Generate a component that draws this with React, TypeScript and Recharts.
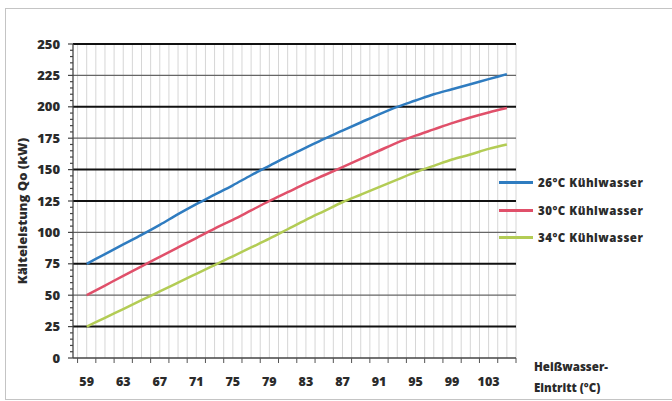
import React from 'react';
import { LineChart, Line, XAxis, YAxis, CartesianGrid, ReferenceLine } from 'recharts';

// Heißwasser-Eintritt (°C)
const temps = [59, 61, 63, 65, 67, 69, 71, 73, 75, 77, 79, 81, 83, 85, 87, 89, 91, 93, 95, 97, 99, 101, 103, 105];
// Kälteleistung Qo (kW)
const kw26 = [75, 82.7, 90.4, 98, 106, 114.5, 122.5, 130, 137.5, 145.5, 153, 160.5, 167.5, 174.5, 181, 187.5, 194, 200, 205, 210, 214, 218, 222, 226];
const kw30 = [50, 57.7, 65.4, 73, 80.5, 88, 95.5, 103, 110, 117.5, 125, 132, 139, 145.5, 152, 158.5, 165, 171.5, 177, 182, 187, 191.5, 195.5, 199];
const kw34 = [25, 32, 39, 46, 53, 60, 67, 74, 81, 88, 95, 102.5, 110, 117, 124, 130, 136, 142, 148, 153, 158, 162, 166.5, 170];

const seriesNames = ['26°C Kühlwasser', '30°C Kühlwasser', '34°C Kühlwasser'];
const seriesColors = ['#2f7cc0', '#e0506a', '#b3cc55'];
const xLabelTicks = [59, 63, 67, 71, 75, 79, 83, 87, 91, 95, 99, 103];
const yLabelTicks = [0, 25, 50, 75, 100, 125, 150, 175, 200, 225, 250];
const strongGrid = [25, 75, 125, 150, 200, 250];

const data = temps.map((t, i) => ({ t, s26: kw26[i], s30: kw30[i], s34: kw34[i] }));

const xGridTicks: number[] = [];
for (let v = 58; v <= 106; v++) xGridTicks.push(v);
const yMinorTicks: number[] = [];
for (let v = 0; v <= 250; v += 5) yMinorTicks.push(v);

const FONT = '"Open Sans", "DejaVu Sans", sans-serif';
const TXT = '#2b2b2b';

const XTick = (props: any) => {
  const { x, y, payload } = props;
  const v = payload.value;
  return (
    <g>
      {v % 2 === 0 && <line x1={x} x2={x} y1={y} y2={y + 5} stroke="#555" strokeWidth={1} />}
      {xLabelTicks.includes(v) && (
        <text x={x} y={y + 28} textAnchor="middle" fontFamily={FONT} fontSize={12.5} fontWeight={800} fill={TXT}>
          {v}
        </text>
      )}
    </g>
  );
};

const YTick = (props: any) => {
  const { x, y, payload } = props;
  const v = payload.value;
  const major = v % 25 === 0;
  return (
    <g>
      <line x1={x - (major ? 5 : 3)} x2={x} y1={y} y2={y} stroke="#444" strokeWidth={1.2} />
      {major && (
        <text x={x - 13} y={y} dy="0.35em" textAnchor="end" fontFamily={FONT} fontSize={13} fontWeight={800} fill={TXT}>
          {v}
        </text>
      )}
    </g>
  );
};

export default function App() {
  return (
    <div style={{ position: 'absolute', left: 0, top: 0, width: 672, height: 401, background: '#fff', overflow: 'hidden' }}>
      <div style={{ position: 'absolute', left: 5, top: 8, width: 672, height: 390, border: '1px solid #c4c4c4' }} />
      <LineChart width={672} height={401} data={data} margin={{ top: 44, right: 156, bottom: 13, left: 0 }}>
        <CartesianGrid horizontal={false} vertical stroke="#d6d6d6" strokeWidth={1} />
        {yLabelTicks.filter((v) => v > 0).map((v) => (
          <ReferenceLine
            key={v}
            y={v}
            stroke={strongGrid.includes(v) ? '#111' : '#666'}
            strokeWidth={strongGrid.includes(v) ? 2 : 1.3}
          />
        ))}
        <XAxis
          dataKey="t"
          type="number"
          domain={[57.5, 106]}
          ticks={xGridTicks}
          interval={0}
          tick={<XTick />}
          tickLine={false}
          tickSize={0}
          tickMargin={0}
          height={30}
          axisLine={{ stroke: '#444', strokeWidth: 1.5 }}
        />
        <YAxis
          type="number"
          domain={[0, 250]}
          ticks={yMinorTicks}
          interval={0}
          tick={<YTick />}
          tickLine={false}
          tickSize={0}
          tickMargin={0}
          width={73}
          axisLine={{ stroke: '#444', strokeWidth: 1.2 }}
          label={{
            value: 'Kälteleistung Qo (kW)',
            position: 'insideLeft',
            content: (p: any) => {
              const vb = p.viewBox;
              const cx = 22;
              const cy = vb.y + vb.height / 2 + 10;
              return (
                <text x={cx} y={cy} transform={`rotate(-90 ${cx} ${cy})`} textAnchor="middle" dominantBaseline="central" fontFamily={FONT} fontSize={13} fontWeight={800} fill={TXT}>
                  Kälteleistung Qo (kW)
                </text>
              );
            },
          }}
        />
        <Line type="monotone" dataKey="s26" name={seriesNames[0]} stroke={seriesColors[0]} strokeWidth={2.5} dot={false} isAnimationActive={false} />
        <Line type="monotone" dataKey="s30" name={seriesNames[1]} stroke={seriesColors[1]} strokeWidth={2.5} dot={false} isAnimationActive={false} />
        <Line type="monotone" dataKey="s34" name={seriesNames[2]} stroke={seriesColors[2]} strokeWidth={2.5} dot={false} isAnimationActive={false} />
      </LineChart>
      <div style={{ position: 'absolute', left: 499, top: 169, fontFamily: FONT, fontSize: 11.5, fontWeight: 800, color: TXT }}>
        {seriesNames.map((n, i) => (
          <div key={n} style={{ display: 'flex', alignItems: 'center', height: 27.5 }}>
            <div style={{ width: 34, height: 3, background: seriesColors[i], marginRight: 5 }} />
            <span style={{ letterSpacing: 0.5 }}>{n}</span>
          </div>
        ))}
      </div>
      <div style={{ position: 'absolute', left: 534, top: 356, fontFamily: FONT, fontSize: 11.5, fontWeight: 800, color: TXT, lineHeight: '21px' }}>
        <div>Heißwasser-</div>
        <div>Eintritt (°C)</div>
      </div>
    </div>
  );
}
